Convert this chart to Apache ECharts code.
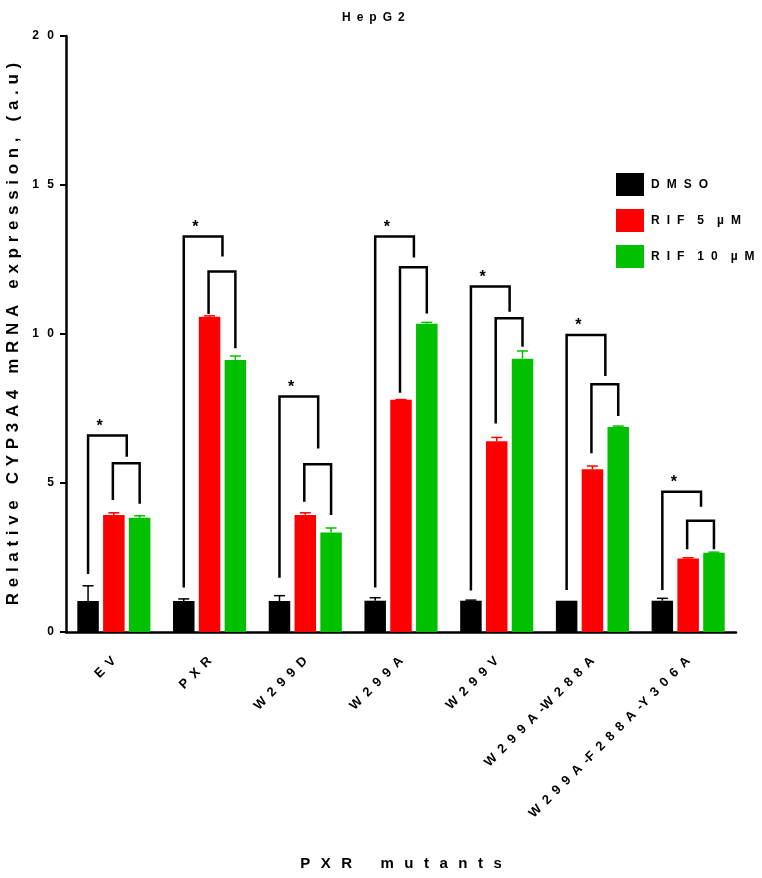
<!DOCTYPE html>
<html><head><meta charset="utf-8">
<script src="https://cdn.jsdelivr.net/npm/echarts@6/dist/echarts.min.js"></script>
<style>html,body{margin:0;padding:0;background:#fff}#c{width:762px;height:878px}</style>
</head><body><div id="c"></div>
<script>
// ---- data ----
const categories = ['EV','PXR','W299D','W299A','W299V','W299A-W288A','W299A-F288A-Y306A'];
const seriesNames = ['DMSO','RIF 5 µM','RIF 10 µM'];
const dmso     = [1.04, 1.04, 1.04, 1.05, 1.05, 1.05, 1.05];
const dmsoErr  = [0.51, 0.07, 0.18, 0.10, 0.02, 0.00, 0.08];
const rif5     = [3.93, 10.58, 3.93, 7.79, 6.40, 5.46, 2.47];
const rif5Err  = [0.07, 0.03, 0.07, 0.01, 0.13, 0.11, 0.02];
const rif10    = [3.83, 9.13, 3.34, 10.34, 9.17, 6.88, 2.66];
const rif10Err = [0.07, 0.13, 0.15, 0.05, 0.26, 0.03, 0.02];
// significance brackets (y values)
const outerLeftBottom  = [1.95, 1.49, 1.82, 1.49, 1.39, 1.41, 1.41];
const outerTop         = [6.59, 13.27, 7.90, 13.27, 11.59, 9.97, 4.71];
const outerRightBottom = [5.88, 12.60, 6.16, 12.57, 10.75, 8.59, 4.20];
const innerTop         = [5.66, 12.10, 5.63, 12.24, 10.53, 8.31, 3.73];
const innerLeftBottom  = [4.43, 10.67, 4.37, 8.03, 7.00, 6.00, 2.78];
const innerRightBottom = [4.30, 9.52, 3.93, 10.69, 9.57, 7.25, 2.78];
const sigMark = ['*','*','*','*','*','*','*'];
const yTicks = [0, 5, 10, 15, 20];
const titleText = 'HepG2';
const yName = 'Relative CYP3A4 mRNA expression, (a.u)';
const xName = 'PXR mutants';

// ---- styles ----
const colors = ['#000000', '#ff0000', '#00c000'];
const BAR_W = 21.5, BAR_GAP = 0.2;
const FONT = '"Liberation Sans", Arial, sans-serif';
const EN = '\u2002', THIN = '\u2009', THREE = '\u2004', HAIR = '\u200A';
function spaced(s, sep) {
  return Array.from(String(s)).join(sep).replace(new RegExp('-' + sep, 'g'), '-');
}
function spacedWords(s, sep, wordSep) {
  return String(s).split(' ').map(w => Array.from(w).join(sep)).join(wordSep);
}

const values = [dmso, rif5, rif10];
const errs = [dmsoErr, rif5Err, rif10Err];
const errData = [];
for (let s = 0; s < 3; s++) for (let i = 0; i < categories.length; i++) errData.push([i, s, values[s][i], errs[s][i]]);
const brData = categories.map((c, i) => [i, outerLeftBottom[i], outerTop[i], outerRightBottom[i], innerTop[i], innerLeftBottom[i], innerRightBottom[i]]);

const chart = echarts.init(document.getElementById('c'), null, {renderer: 'canvas'});
const step = BAR_W * (1 + BAR_GAP);

const barSeries = seriesNames.map((n, s) => ({
  name: n, type: 'bar', data: values[s], barWidth: BAR_W, barGap: (BAR_GAP * 100) + '%',
  itemStyle: {color: colors[s]}, emphasis: {disabled: true}, z: 2
}));

chart.setOption({
  animation: false,
  backgroundColor: '#fff',
  title: {text: spaced(titleText, EN), left: 337, top: 7,
    textStyle: {fontFamily: FONT, fontSize: 12, fontWeight: 'bold', color: '#000'}},
  grid: {left: 66, right: 26, top: 36, bottom: 246, containLabel: false, outerBoundsMode: 'none'},
  legend: {
    orient: 'vertical', left: 611, top: 168, itemWidth: 28, itemHeight: 23, itemGap: 13,
    icon: 'rect', data: seriesNames,
    formatter: n => spacedWords(n, EN + HAIR, EN + HAIR + EN),
    textStyle: {fontFamily: FONT, fontSize: 12, fontWeight: 'bold', color: '#000', padding: [0,0,0,2]}
  },
  xAxis: {
    type: 'category', data: categories,
    axisLine: {lineStyle: {color: '#000', width: 2.5}},
    axisTick: {alignWithLabel: true, length: 6, lineStyle: {color: '#000', width: 2}},
    axisLabel: {rotate: 45, interval: 0, margin: 27, color: '#000', fontFamily: FONT, fontSize: 13, fontWeight: 'bold',
      formatter: v => spaced(v, EN)},
    name: spacedWords(xName, EN + THIN, EN + THIN + EN + THIN + EN), nameLocation: 'middle', nameGap: 224,
    nameTextStyle: {fontFamily: FONT, fontSize: 15, fontWeight: 'bold', color: '#000'}
  },
  yAxis: {
    type: 'value', min: yTicks[0], max: yTicks[yTicks.length - 1], interval: yTicks[1] - yTicks[0],
    axisLine: {show: true, lineStyle: {color: '#000', width: 2.5}},
    axisTick: {show: true, length: 6, lineStyle: {color: '#000', width: 2}},
    splitLine: {show: false},
    axisLabel: {margin: 12, color: '#000', fontFamily: FONT, fontSize: 12, fontWeight: 'bold',
      formatter: v => spaced(v, EN + THIN)},
    name: spacedWords(yName, THREE, THREE + ' ' + THREE), nameLocation: 'middle', nameGap: 44,
    nameTextStyle: {fontFamily: FONT, fontSize: 17, fontWeight: 'bold', color: '#000'}
  },
  series: barSeries.concat([
    {
      type: 'custom', name: 'err', data: errData, z: 3, silent: true,
      encode: {x: 0, y: 2},
      renderItem: function (params, api) {
        const i = api.value(0), s = api.value(1), v = api.value(2), e = api.value(3);
        if (!(e > 0)) return null;
        const p0 = api.coord([i, v]), p1 = api.coord([i, v + e]);
        const x = p0[0] + (s - 1) * step;
        const st = {stroke: colors[s], lineWidth: 1.5};
        return {type: 'group', children: [
          {type: 'line', shape: {x1: x, y1: p0[1], x2: x, y2: p1[1]}, style: st},
          {type: 'line', shape: {x1: x - 5.5, y1: p1[1], x2: x + 5.5, y2: p1[1]}, style: st}
        ]};
      }
    },
    {
      type: 'custom', name: 'sig', data: brData, z: 4, silent: true,
      encode: {x: 0, y: 2},
      renderItem: function (params, api) {
        const i = api.value(0);
        const c = api.coord([i, 0])[0];
        const y = v => api.coord([i, v])[1];
        const xL = c - step, xM = c, xR = c + step, xOR = c + step / 2;
        const st = {stroke: '#000', lineWidth: 2.5, fill: null, lineJoin: 'miter'};
        const oT = y(api.value(2));
        return {type: 'group', children: [
          {type: 'polyline', shape: {points: [[xL, y(api.value(1))], [xL, oT], [xOR, oT], [xOR, y(api.value(3))]]}, style: st},
          {type: 'polyline', shape: {points: [[xM - 1, y(api.value(5))], [xM - 1, y(api.value(4))], [xR, y(api.value(4))], [xR, y(api.value(6))]]}, style: st},
          {type: 'text', style: {text: sigMark[params.dataIndex], x: xL + (xOR - xL) * 0.3, y: oT - 9,
            align: 'center', verticalAlign: 'middle', font: 'bold 16px ' + FONT, fill: '#000'}}
        ]};
      }
    }
  ])
});
</script></body></html>
